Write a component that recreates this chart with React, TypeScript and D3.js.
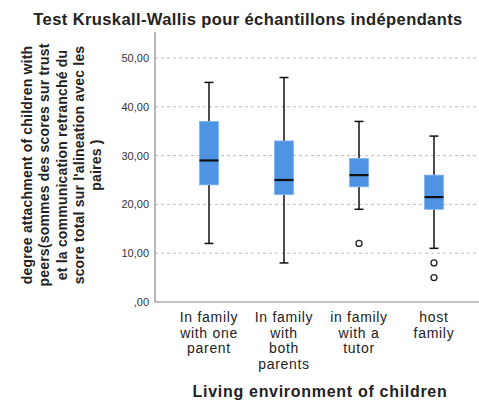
import React, { useRef, useEffect } from 'react';
import * as d3 from 'd3';

const categories = [
  ['In family', 'with one', 'parent'],
  ['In family', 'with', 'both', 'parents'],
  ['in family', 'with a', 'tutor'],
  ['host', 'family'],
];
const whiskerLow = [12, 8, 19, 11];
const q1 = [24, 22, 23.6, 19];
const medians = [29, 25, 26, 21.5];
const q3 = [37, 33, 29.4, 26];
const whiskerHigh = [45, 46, 37, 34];
const outliers = [[], [], [12], [8, 5]];
const yTicks = [0, 10, 20, 30, 40, 50];
const yTickLabels = [',00', '10,00', '20,00', '30,00', '40,00', '50,00'];
const yTitle = [
  'degree attachment of children with',
  'peers(sommes des scores sur trust',
  'et la communication retranché du',
  "score total sur l'alineation avec les",
  'paires )',
];

const W = 479;
const H = 401;

const App = () => {
  const svgRef = useRef(null);

  useEffect(() => {
    const svg = d3.select(svgRef.current);
    svg.selectAll('*').remove();
    const font = 'Arial, "Liberation Sans", sans-serif';

    const left = 155;
    const bottom = 302;
    const top = 32;

    const x = d3.scalePoint()
      .domain(categories.map((_, i) => String(i)))
      .range([209, 434]);

    const y = d3.scaleLinear()
      .domain([0, 10])
      .range([bottom, bottom - 48.8]);

    // title
    svg.append('text')
      .attr('x', 248)
      .attr('y', 25)
      .attr('text-anchor', 'middle')
      .attr('font-family', font)
      .attr('font-weight', 'bold')
      .attr('font-size', 16.5)
      .attr('letter-spacing', 0.4)
      .attr('fill', '#222')
      .text('Test Kruskall-Wallis pour échantillons indépendants');

    // grid
    svg.append('g')
      .selectAll('line')
      .data(yTicks.filter(d => d > 0))
      .enter().append('line')
      .attr('x1', left)
      .attr('x2', W)
      .attr('y1', d => y(d))
      .attr('y2', d => y(d))
      .attr('stroke', '#bbb')
      .attr('stroke-width', 1)
      .attr('stroke-dasharray', '3,3');

    // tick labels
    svg.append('g')
      .selectAll('text')
      .data(yTicks)
      .enter().append('text')
      .attr('x', 149)
      .attr('y', d => y(d) + 4)
      .attr('text-anchor', 'end')
      .attr('font-family', font)
      .attr('font-size', 11)
      .attr('fill', '#333')
      .text((d, i) => yTickLabels[i]);

    // axes
    svg.append('path')
      .attr('d', `M${left},${top}V${bottom}H${W}`)
      .attr('fill', 'none')
      .attr('stroke', '#888')
      .attr('stroke-width', 1.2);

    const g = svg.append('g');
    const bw = 19;
    const cap = 9;

    categories.forEach((_, i) => {
      const cx = x(String(i));
      // whiskers
      g.append('line')
        .attr('x1', cx).attr('x2', cx)
        .attr('y1', y(whiskerHigh[i])).attr('y2', y(q3[i]))
        .attr('stroke', '#111').attr('stroke-width', 1.5);
      g.append('line')
        .attr('x1', cx).attr('x2', cx)
        .attr('y1', y(q1[i])).attr('y2', y(whiskerLow[i]))
        .attr('stroke', '#111').attr('stroke-width', 1.5);
      [whiskerHigh[i], whiskerLow[i]].forEach(v => {
        g.append('line')
          .attr('x1', cx - cap / 2).attr('x2', cx + cap / 2)
          .attr('y1', y(v)).attr('y2', y(v))
          .attr('stroke', '#111').attr('stroke-width', 1.5);
      });
      // box
      g.append('rect')
        .attr('x', cx - bw / 2)
        .attr('y', y(q3[i]))
        .attr('width', bw)
        .attr('height', y(q1[i]) - y(q3[i]))
        .attr('fill', '#4f93e3')
        .attr('stroke', '#7fb3ef')
        .attr('stroke-width', 0.8);
      // median
      g.append('line')
        .attr('x1', cx - bw / 2).attr('x2', cx + bw / 2)
        .attr('y1', y(medians[i])).attr('y2', y(medians[i]))
        .attr('stroke', '#111').attr('stroke-width', 2.2);
      // outliers
      outliers[i].forEach(v => {
        g.append('circle')
          .attr('cx', cx)
          .attr('cy', y(v))
          .attr('r', 3)
          .attr('fill', 'white')
          .attr('stroke', '#222')
          .attr('stroke-width', 1.3);
      });
      // category label
      const t = g.append('text')
        .attr('text-anchor', 'middle')
        .attr('font-family', font)
        .attr('font-size', 14)
        .attr('letter-spacing', 0.7)
        .attr('fill', '#222');
      categories[i].forEach((line, j) => {
        t.append('tspan')
          .attr('x', cx)
          .attr('y', 322 + j * 15.5)
          .text(line);
      });
    });

    // x title
    svg.append('text')
      .attr('x', 320)
      .attr('y', 397)
      .attr('text-anchor', 'middle')
      .attr('font-family', font)
      .attr('font-weight', 'bold')
      .attr('font-size', 16)
      .attr('letter-spacing', 0.7)
      .attr('fill', '#222')
      .text('Living environment of children');

    // y title
    const yt = svg.append('text')
      .attr('transform', 'translate(0,165) rotate(-90)')
      .attr('text-anchor', 'middle')
      .attr('font-family', font)
      .attr('font-weight', 'bold')
      .attr('font-size', 14)
      .attr('letter-spacing', 0.2)
      .attr('fill', '#222');
    yTitle.forEach((line, j) => {
      yt.append('tspan')
        .attr('x', 0)
        .attr('y', 32 + j * 17.3)
        .text(line);
    });
  }, []);

  return (
    <div style={{ position: 'absolute', left: 0, top: 0 }}>
      <svg ref={svgRef} width={W} height={H} style={{ display: 'block', background: 'white' }}></svg>
    </div>
  );
};

export default App;
